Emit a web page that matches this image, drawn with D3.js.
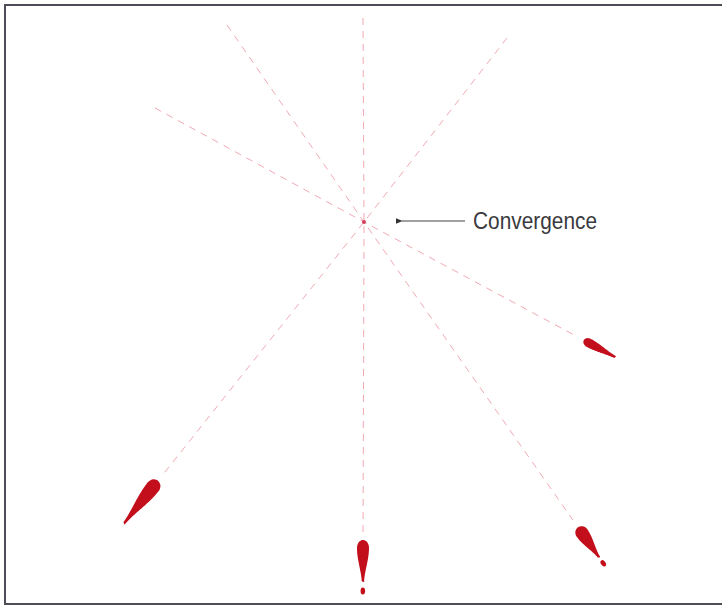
<!DOCTYPE html>
<html>
<head>
<meta charset="utf-8">
<script src="https://cdn.jsdelivr.net/npm/d3@7"></script>
<style>
  html, body { margin: 0; padding: 0; background: #fff; }
  svg { display: block; }
</style>
</head>
<body>
<svg id="chart" width="722" height="611"></svg>
<script>
// ---- Data (units: cm, convergence point at origin, y grows downward) ----
const stainNames   = ["bottom", "lowerLeft", "lowerRight", "right"];
const stainX       = [-0.1, -21.1, 21.8, 22.5];   // head centre of each stain
const stainY       = [32.6, 26.5, 31.1, 12.1];
const stainHalfW   = [0.6, 0.7, 0.65, 0.45];      // half width of stain
const stainFront   = [0.8, 0.8, 0.7, 0.6];        // head front extent
const stainLength  = [3.4, 4.7, 3.0, 3.0];        // tail length
const stainSatellite = [4.3, 0, 3.7, 0];          // satellite drop distance (0 = none)
const backX        = [-0.1, 14.3, -13.7, -20.9];  // far end of each string line
const backY        = [-20.4, -18.4, -19.7, -11.4];
const convergence  = [0, 0];
const labelText    = "Convergence";

// ---- Scales ----
const W = 722, H = 611;
const x = d3.scaleLinear().domain([-36.4, 35.8]).range([0, W]);
const y = d3.scaleLinear().domain([-22.2, 38.9]).range([0, H]);
const k = x(1) - x(0); // px per unit

const svg = d3.select("#chart");

// frame
svg.append("rect")
  .attr("x", 5).attr("y", 5)
  .attr("width", W + 10).attr("height", 599)
  .attr("fill", "#fff")
  .attr("stroke", "#4d4d58")
  .attr("stroke-width", 2);

const stains = stainNames.map((n, i) => ({
  name: n, x: stainX[i], y: stainY[i], w: stainHalfW[i], a: stainFront[i],
  L: stainLength[i], sat: stainSatellite[i], bx: backX[i], by: backY[i]
}));

// dashed string lines
const gLines = svg.append("g")
  .attr("stroke", "#e8707e")
  .attr("stroke-opacity", 0.6)
  .attr("stroke-width", 1)
  .attr("stroke-dasharray", "7,6")
  .attr("fill", "none");

stains.forEach(s => {
  const dx = s.x - convergence[0], dy = s.y - convergence[1];
  const len = Math.hypot(dx, dy);
  const gap = 1.6;
  const ex = convergence[0] + dx * (len - gap) / len;
  const ey = convergence[1] + dy * (len - gap) / len;
  gLines.append("path")
    .attr("d", d3.line()([[x(s.bx), y(s.by)], [x(convergence[0]), y(convergence[1])], [x(ex), y(ey)]]));
});

// convergence dot
svg.append("circle")
  .attr("cx", x(convergence[0])).attr("cy", y(convergence[1]))
  .attr("r", 2).attr("fill", "#d0405a");

// stains
const outline = d3.line().curve(d3.curveCatmullRomClosed);
stains.forEach(s => {
  const ang = Math.atan2(y(s.y) - y(convergence[1]), x(s.x) - x(convergence[0])) * 180 / Math.PI;
  const w = s.w * k, a = s.a * k, L = s.L * k, t = 0.12 * k;
  const top = [], bot = [];
  const N = 40;
  for (let j = 0; j <= N; j++) {
    const xx = -a + (a + L) * j / N;
    let h;
    if (xx <= 0) h = w * Math.sqrt(Math.max(0, 1 - (xx / a) ** 2));
    else {
      const u = xx / L;
      h = t + (w - t) * Math.pow(1 - u, 1.8) * (1 + 1.8 * u);
    }
    top.push([xx, -h]);
    bot.push([xx, h]);
  }
  const pts = top.concat(bot.reverse().slice(1, -1));
  const g = svg.append("g")
    .attr("transform", `translate(${x(s.x)},${y(s.y)}) rotate(${ang})`);
  g.append("path").attr("d", outline(pts)).attr("fill", "#c30f1c");
  if (s.sat > 0) {
    g.append("ellipse").attr("cx", s.sat * k).attr("cy", 0)
      .attr("rx", 3.5).attr("ry", 2.3).attr("fill", "#c30f1c");
  }
});

// annotation arrow + label
const ax0 = x(convergence[0]) + 35, ax1 = x(convergence[0]) + 101, ay = y(convergence[1]) - 1;
svg.append("defs").append("marker")
  .attr("id", "ah").attr("viewBox", "0 0 10 10")
  .attr("refX", 1).attr("refY", 5)
  .attr("markerWidth", 6).attr("markerHeight", 6)
  .attr("orient", "auto-start-reverse")
  .append("path").attr("d", "M10,1 L0,5 L10,9 Z").attr("fill", "#333");
svg.append("line")
  .attr("x1", ax0 + 3).attr("y1", ay).attr("x2", ax1).attr("y2", ay)
  .attr("stroke", "#444").attr("stroke-width", 1.2)
  .attr("marker-start", "url(#ah)");
svg.append("text")
  .attr("x", ax1 + 8).attr("y", ay + 8)
  .attr("font-family", "'Liberation Sans Narrow', 'Liberation Sans', Arial, sans-serif")
  .attr("font-size", 23)
  .attr("textLength", 124).attr("lengthAdjust", "spacingAndGlyphs")
  .attr("fill", "#3a3a40")
  .text(labelText);
</script>
</body>
</html>
